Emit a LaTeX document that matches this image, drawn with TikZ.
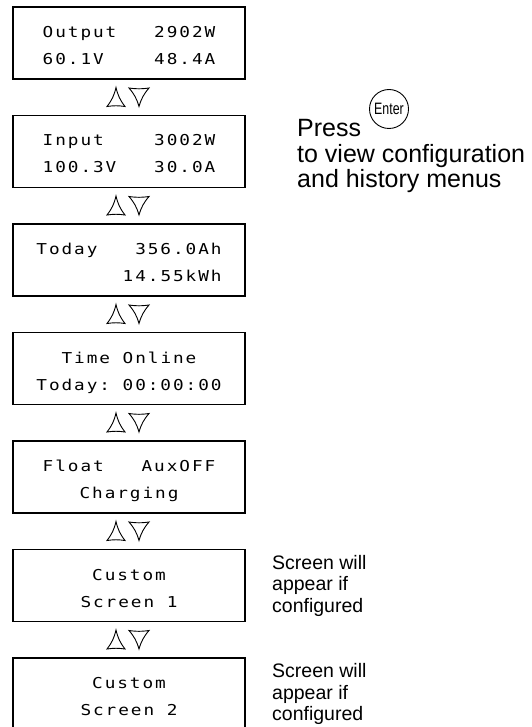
\documentclass[tikz,border=0pt]{standalone}
\usepackage{fontspec}
\setmainfont{Liberation Sans}
\newfontfamily\lcdfont[FakeStretch=1.18,LetterSpace=13]{DejaVu Sans Mono}
\newfontfamily\keyfont[FakeStretch=0.75]{Liberation Sans}

\begin{document}
\begin{tikzpicture}[x=1pt,y=-1pt,
  lcd/.style={draw, line width=1.1pt, minimum width=232pt, minimum height=72pt,
    inner sep=0pt, align=center, text height=43pt, text depth=0pt,
    font=\lcdfont\fontsize{15}{27}\selectfont},
  updown/.style={line width=0.9pt, line join=miter},
  note/.style={anchor=west, align=left, inner sep=0pt,
    font=\fontsize{19.5}{21.5}\selectfont},
  bigtext/.style={anchor=base west, align=left, inner sep=0pt,
    font=\fontsize{25}{25.5}\selectfont}]
\useasboundingbox (0,0) rectangle (531,727);

\node[lcd] (output) at (129,43) {Output~~~2902W\\60.1V~~~~48.4A};
\node[lcd] (input) at (129,151.5) {Input~~~~3002W\\100.3V~~~30.0A};
\node[lcd] (today) at (129,260) {Today~~~356.0Ah\\\hphantom{0000000}14.55kWh};
\node[lcd] (online) at (129,368.5) {Time~Online\\Today:~00:00:00};
\node[lcd] (float) at (129,477) {Float~~~AuxOFF\\Charging};
\node[lcd] (custA) at (129,585.5) {Custom\\Screen~1};
\node[lcd] (custB) at (129,694) {Custom\\Screen~2};

% up / down keys between the screens
\draw[updown,shift={(0,97)}] (107,9.5) to[bend right=12] (116,-9.5) to[bend right=12] (125,9.5) to[bend right=8] cycle
  (129,-9) to[bend right=8] (149,-9) to[bend right=12] (139,9.5) to[bend right=12] cycle;
\draw[updown,shift={(0,205.5)}] (107,9.5) to[bend right=12] (116,-9.5) to[bend right=12] (125,9.5) to[bend right=8] cycle
  (129,-9) to[bend right=8] (149,-9) to[bend right=12] (139,9.5) to[bend right=12] cycle;
\draw[updown,shift={(0,314)}] (107,9.5) to[bend right=12] (116,-9.5) to[bend right=12] (125,9.5) to[bend right=8] cycle
  (129,-9) to[bend right=8] (149,-9) to[bend right=12] (139,9.5) to[bend right=12] cycle;
\draw[updown,shift={(0,422.5)}] (107,9.5) to[bend right=12] (116,-9.5) to[bend right=12] (125,9.5) to[bend right=8] cycle
  (129,-9) to[bend right=8] (149,-9) to[bend right=12] (139,9.5) to[bend right=12] cycle;
\draw[updown,shift={(0,531)}] (107,9.5) to[bend right=12] (116,-9.5) to[bend right=12] (125,9.5) to[bend right=8] cycle
  (129,-9) to[bend right=8] (149,-9) to[bend right=12] (139,9.5) to[bend right=12] cycle;
\draw[updown,shift={(0,639.5)}] (107,9.5) to[bend right=12] (116,-9.5) to[bend right=12] (125,9.5) to[bend right=8] cycle
  (129,-9) to[bend right=8] (149,-9) to[bend right=12] (139,9.5) to[bend right=12] cycle;

\node[bigtext] (press) at (297,137) {Press};
\node[draw, circle, line width=0.9pt, minimum size=39pt, inner sep=0pt,
  font=\keyfont\fontsize{16.5}{16.5}\selectfont] (enter) at (389,109) {Enter};
\node[bigtext] (menus) at (297,188) {to view configuration\\and history menus};

\node[note] (noteA) at (272,585.5) {Screen will\\appear if\\configured};
\node[note] (noteB) at (272,694) {Screen will\\appear if\\configured};
\end{tikzpicture}
\end{document}
